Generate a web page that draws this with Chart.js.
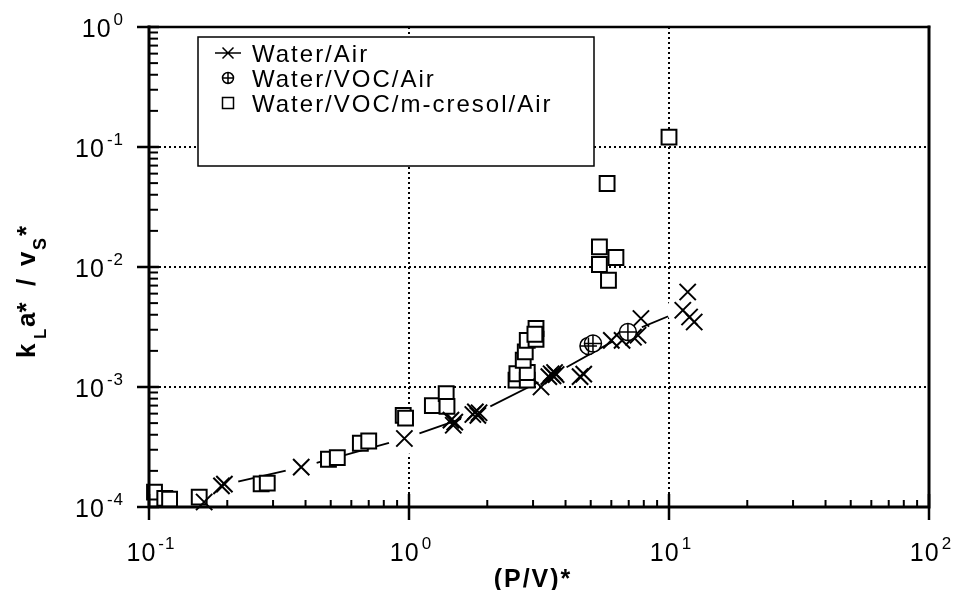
<!DOCTYPE html>
<html lang="en">
<head>
<meta charset="UTF-8">
<title>kLa* / vS* versus (P/V)*</title>
<script src="https://cdn.jsdelivr.net/npm/chart.js"></script>
<style>
  html, body { margin: 0; padding: 0; background: #fff; }
  #wrap { width: 955px; height: 590px; }
</style>
</head>
<body>
<div id="wrap"><canvas id="chart" width="955" height="590"></canvas></div>
<script>
// values (log-log)
const waterAirX = [0.163, 0.19, 0.195, 0.385, 0.96, 1.45, 1.48, 1.50, 1.76, 1.80, 1.84, 1.86, 3.22, 3.45, 3.52, 3.58, 3.63, 3.68, 4.55, 4.70, 6.0, 6.6, 7.3, 7.6, 7.8, 11.3, 11.8, 12.0, 12.5];
const waterAirY = [1.10e-4, 1.50e-4, 1.55e-4, 2.15e-4, 3.72e-4, 5.3e-4, 4.8e-4, 5.1e-4, 5.9e-4, 6.2e-4, 5.8e-4, 6.1e-4, 1.0e-3, 1.22e-3, 1.29e-3, 1.24e-3, 1.32e-3, 1.27e-3, 1.22e-3, 1.28e-3, 2.45e-3, 2.45e-3, 2.6e-3, 2.7e-3, 3.72e-3, 4.36e-3, 6.19e-3, 3.83e-3, 3.48e-3];

// the connecting line of the Water/Air series
const waterAirLineX = [0.16, 0.192, 0.385, 0.96, 1.81, 3.57, 6.9, 11.3];
const waterAirLineY = [1.2e-4, 1.52e-4, 2.15e-4, 3.72e-4, 6.0e-4, 1.26e-3, 2.8e-3, 4.36e-3];

const vocX = [4.9, 5.1, 6.95];
const vocY = [2.2e-3, 2.3e-3, 2.87e-3];

const cresolX = [0.105, 0.115, 0.12, 0.156, 0.27, 0.285, 0.49, 0.53, 0.65, 0.70, 0.95, 0.97, 1.23, 1.39, 1.40, 2.58, 2.60, 2.85, 2.85, 2.75, 2.80, 2.85, 3.08, 3.08, 3.05, 5.40, 5.40, 6.25, 5.85, 5.78, 10.0];
const cresolY = [1.33e-4, 1.18e-4, 1.16e-4, 1.21e-4, 1.56e-4, 1.58e-4, 2.5e-4, 2.58e-4, 3.4e-4, 3.55e-4, 5.8e-4, 5.5e-4, 7.0e-4, 8.8e-4, 6.9e-4, 1.14e-3, 1.29e-3, 1.14e-3, 1.32e-3, 1.67e-3, 1.96e-3, 2.45e-3, 2.5e-3, 3.07e-3, 2.75e-3, 0.0147, 0.0105, 0.0120, 0.00775, 0.0496, 0.121];

const xMajorExp = [-1, 0, 1, 2];
const yMajorExp = [-4, -3, -2, -1, 0];
const minorSteps = [2, 3, 4, 5, 6, 7, 8, 9];

const legendLabels = ['Water/Air', 'Water/VOC/Air', 'Water/VOC/m-cresol/Air'];

function pts(xs, ys) { return xs.map((x, i) => ({ x: x, y: ys[i] })); }
function allTicks(exps) {
  const out = [];
  exps.forEach((e, k) => {
    out.push(Math.pow(10, e));
    if (k < exps.length - 1) minorSteps.forEach(m => out.push(m * Math.pow(10, e)));
  });
  return out;
}
const xTicks = allTicks(xMajorExp);
const yTicks = allTicks(yMajorExp);
const isPow10 = v => Math.abs(Math.log10(v) - Math.round(Math.log10(v))) < 1e-9;

function gridColor(ctx, min, max) {
  if (!ctx.tick) return 'rgba(0,0,0,0)';
  const v = ctx.tick.value;
  if (!isPow10(v) || Math.abs(v - min) / min < 1e-6 || Math.abs(v - max) / max < 1e-6) return 'rgba(0,0,0,0)';
  return '#000';
}

const FONT = '"Liberation Sans", Arial, Helvetica, sans-serif';
const hasSpacing = 'letterSpacing' in CanvasRenderingContext2D.prototype;

function drawPow(ctx, exp, x, y, align) {
  const sup = exp < 0 ? '-' + Math.abs(exp) : String(exp);
  if (hasSpacing) ctx.letterSpacing = '1px';
  ctx.font = '25px ' + FONT;
  const wb = ctx.measureText('10').width;
  ctx.font = '17px ' + FONT;
  const we = ctx.measureText(sup).width + 2;
  let sx = align === 'center' ? x - (wb + we) / 2 + 2 : x - (wb + we);
  ctx.textAlign = 'left';
  ctx.textBaseline = 'alphabetic';
  ctx.font = '25px ' + FONT;
  ctx.fillText('10', sx, y);
  ctx.font = '17px ' + FONT;
  ctx.fillText(sup, sx + wb + 2, y - 12);
  if (hasSpacing) ctx.letterSpacing = '0px';
}

const frame = {
  id: 'frame',
  afterDraw(chart) {
    const { ctx, chartArea: a, scales: { x, y } } = chart;
    ctx.save();
    ctx.strokeStyle = '#000';
    ctx.fillStyle = '#000';

    // y ticks
    yTicks.forEach(v => {
      const py = y.getPixelForValue(v);
      ctx.beginPath();
      if (isPow10(v)) { ctx.lineWidth = 2.5; ctx.moveTo(a.left - 12, py); ctx.lineTo(a.left + 10, py); }
      else { ctx.lineWidth = 2; ctx.moveTo(a.left, py); ctx.lineTo(a.left + 9, py); }
      ctx.stroke();
    });
    // x ticks
    xTicks.forEach(v => {
      const px = x.getPixelForValue(v);
      ctx.beginPath();
      if (isPow10(v)) { ctx.lineWidth = 2.5; ctx.moveTo(px, a.bottom - 13); ctx.lineTo(px, a.bottom + 13); }
      else { ctx.lineWidth = 2; ctx.moveTo(px, a.bottom); ctx.lineTo(px, a.bottom - 7); }
      ctx.stroke();
    });

    // frame
    ctx.lineCap = 'square';
    ctx.lineWidth = 2.5;
    ctx.beginPath(); ctx.moveTo(a.left, a.top); ctx.lineTo(a.right, a.top); ctx.stroke();
    ctx.lineWidth = 3;
    ctx.beginPath(); ctx.moveTo(a.left, a.top); ctx.lineTo(a.left, a.bottom); ctx.lineTo(a.right, a.bottom); ctx.lineTo(a.right, a.top); ctx.stroke();
    ctx.lineCap = 'butt';

    // tick labels
    yMajorExp.forEach(e => drawPow(ctx, e, 124, y.getPixelForValue(Math.pow(10, e)) + 10, 'right'));
    xMajorExp.forEach(e => drawPow(ctx, e, x.getPixelForValue(Math.pow(10, e)), 561, 'center'));

    // axis titles
    ctx.font = 'bold 25px ' + FONT;
    ctx.textAlign = 'center';
    if (hasSpacing) ctx.letterSpacing = '2px';
    ctx.fillText('(P/V)*', 533, 587);
    if (hasSpacing) ctx.letterSpacing = '0px';

    ctx.save();
    ctx.translate(35, 358);
    ctx.rotate(-Math.PI / 2);
    ctx.textAlign = 'left';
    const pieces = [
      ['k', 0, 26, 0], ['L', 19, 17, 11], ['a*', 31, 26, 0],
      ['/', 72, 26, 0], ['v', 92, 26, 0], ['S', 108, 18, 11], ['*', 122, 26, 0]
    ];
    pieces.forEach(p => {
      ctx.font = 'bold ' + p[2] + 'px ' + FONT;
      ctx.fillText(p[0], p[1], p[3]);
    });
    ctx.restore();

    // legend
    const lx = 198, ly = 37, lw = 396, lh = 129;
    ctx.fillStyle = '#fff';
    ctx.fillRect(lx, ly, lw, lh);
    ctx.lineWidth = 1.5;
    ctx.strokeRect(lx, ly, lw, lh);
    ctx.fillStyle = '#000';
    ctx.font = '24px ' + FONT;
    ctx.textAlign = 'left';
    if (hasSpacing) ctx.letterSpacing = '2px';
    const rows = [53, 78, 103];
    legendLabels.forEach((t, i) => ctx.fillText(t, 252, rows[i] + 9));
    if (hasSpacing) ctx.letterSpacing = '0px';
    const mx = 228;
    ctx.lineWidth = 1.5;
    ctx.beginPath(); ctx.moveTo(215, rows[0]); ctx.lineTo(241, rows[0]);
    ctx.moveTo(mx - 5.5, rows[0] - 5.5); ctx.lineTo(mx + 5.5, rows[0] + 5.5);
    ctx.moveTo(mx - 5.5, rows[0] + 5.5); ctx.lineTo(mx + 5.5, rows[0] - 5.5);
    ctx.stroke();
    ctx.beginPath(); ctx.arc(mx, rows[1], 5.5, 0, Math.PI * 2);
    ctx.moveTo(mx - 5.5, rows[1]); ctx.lineTo(mx + 5.5, rows[1]);
    ctx.moveTo(mx, rows[1] - 5.5); ctx.lineTo(mx, rows[1] + 5.5);
    ctx.stroke();
    ctx.strokeRect(mx - 5.5, rows[2] - 5.5, 11, 11);
    ctx.restore();
  }
};

new Chart(document.getElementById('chart'), {
  type: 'scatter',
  data: {
    datasets: [
      { label: 'Water/VOC/Air +', data: pts(vocX, vocY), pointStyle: 'cross', pointRadius: 8.5, pointBorderWidth: 1.5, pointBorderColor: '#000', order: 0, clip: false },
      { label: 'Water/VOC/Air', data: pts(vocX, vocY), pointStyle: 'circle', pointRadius: 8.5, pointBorderWidth: 1.5, pointBorderColor: '#000', pointBackgroundColor: '#fff', order: 1, clip: false },
      { label: 'Water/Air', data: pts(waterAirX, waterAirY), pointStyle: 'crossRot', pointRadius: 11.5, pointBorderWidth: 2, pointBorderColor: '#000', order: 2, clip: false },
      { label: 'Water/VOC/m-cresol/Air', data: pts(cresolX, cresolY), pointStyle: 'rect', pointRadius: 10.5, pointBorderWidth: 2, pointBorderColor: '#000', pointBackgroundColor: '#fff', order: 3, clip: false },
      { label: 'gap', data: pts(waterAirLineX, waterAirLineY), pointStyle: 'circle', pointRadius: 16, pointBorderWidth: 0, pointBackgroundColor: '#fff', pointBorderColor: '#fff', order: 4, clip: false },
      { label: 'Water/Air line', data: pts(waterAirLineX, waterAirLineY), showLine: true, borderColor: '#000', borderWidth: 1.8, pointRadius: 0, order: 5, clip: false }
    ]
  },
  options: {
    responsive: false,
    animation: false,
    devicePixelRatio: 1,
    events: [],
    layout: { padding: { top: 27, right: 26, left: 0, bottom: 0 } },
    plugins: { legend: { display: false }, tooltip: { enabled: false } },
    scales: {
      x: {
        type: 'logarithmic', min: 0.1, max: 100, position: 'bottom',
        afterBuildTicks: s => { s.ticks = xTicks.map(v => ({ value: v })); },
        afterFit: s => { s.height = 83; },
        ticks: { display: false },
        grid: { color: c => gridColor(c, 0.1, 100), lineWidth: 2, drawTicks: false, tickLength: 0 },
        border: { display: false, dash: [2, 3] }
      },
      y: {
        type: 'logarithmic', min: 1e-4, max: 1, position: 'left',
        afterBuildTicks: s => { s.ticks = yTicks.map(v => ({ value: v })); },
        afterFit: s => { s.width = 149; },
        ticks: { display: false },
        grid: { color: c => gridColor(c, 1e-4, 1), lineWidth: 2, drawTicks: false, tickLength: 0 },
        border: { display: false, dash: [2, 3] }
      }
    }
  },
  plugins: [frame]
});
</script>
</body>
</html>
